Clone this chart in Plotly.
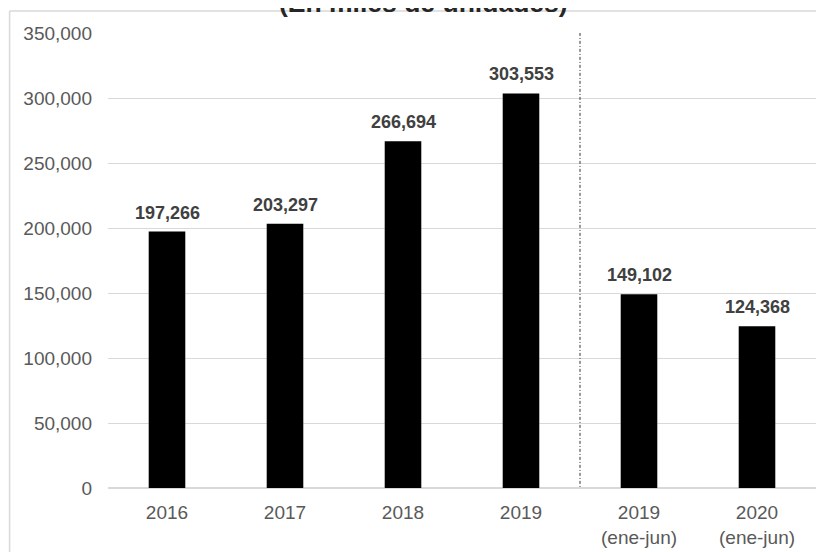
import plotly.graph_objects as go

# Datos (miles de unidades)
categorias = ["2016", "2017", "2018", "2019", "2019<br>(ene-jun)", "2020<br>(ene-jun)"]
valores = [197266, 203297, 266694, 303553, 149102, 124368]
titulo = "(En miles de unidades)"

fig = go.Figure()

fig.add_trace(go.Bar(
    x=categorias,
    y=valores,
    marker_color="black",
    marker_line_width=0,
    hoverinfo="x+y",
))

# etiquetas de datos (x por indice: los nombres numericos se leerian como indice)
for i, val in enumerate(valores):
    fig.add_annotation(
        x=i, y=val, xref="x", yref="y",
        text=f"<b>{val:,}</b>",
        showarrow=False, yanchor="bottom", yshift=7,
        font=dict(size=18, color="#404040", family="Arial, Liberation Sans"),
    )

# titulo (cortado arriba, como en el original)
fig.add_annotation(
    x=0.4455, y=1.029, xref="paper", yref="paper",
    text=f"<b>{titulo}</b>", showarrow=False, yanchor="bottom",
    font=dict(size=26.5, color="#262626", family="Arial, Liberation Sans"),
)

# linea separadora entre años completos y semestres
fig.add_shape(type="line", xref="x", yref="y", x0=3.5, x1=3.5, y0=-3000, y1=350000,
              line=dict(color="#333333", width=1, dash="3px,2px,1px,2px"))

# marco del grafico
fig.add_shape(type="line", xref="paper", yref="paper", x0=-0.139, x1=1.1, y0=1.0484, y1=1.0484,
              line=dict(color="#d9d9d9", width=1.5))
fig.add_shape(type="line", xref="paper", yref="paper", x0=-0.139, x1=-0.139, y0=1.0484, y1=-0.2,
              line=dict(color="#d9d9d9", width=1.5))

fig.update_layout(
    width=824, height=552,
    margin=dict(l=100, r=16, t=25, b=72),
    plot_bgcolor="white", paper_bgcolor="white",
    bargap=0.69,
    showlegend=False,
    font=dict(family="Arial, Liberation Sans", size=19, color="#595959"),
)
fig.update_xaxes(type="category", range=[-0.5, 5.5], showgrid=False, showline=False, ticks="",
                 ticklabelstandoff=11, tickfont=dict(size=19, color="#595959"))
fig.update_yaxes(range=[0, 350000], dtick=50000, tickformat=",", showgrid=True,
                 gridcolor="#d9d9d9", gridwidth=1, zeroline=True, zerolinecolor="#d9d9d9",
                 zerolinewidth=1.5, showline=False, ticks="", ticklabelstandoff=15,
                 tickfont=dict(size=19, color="#595959"))

fig.write_html("out.html")
